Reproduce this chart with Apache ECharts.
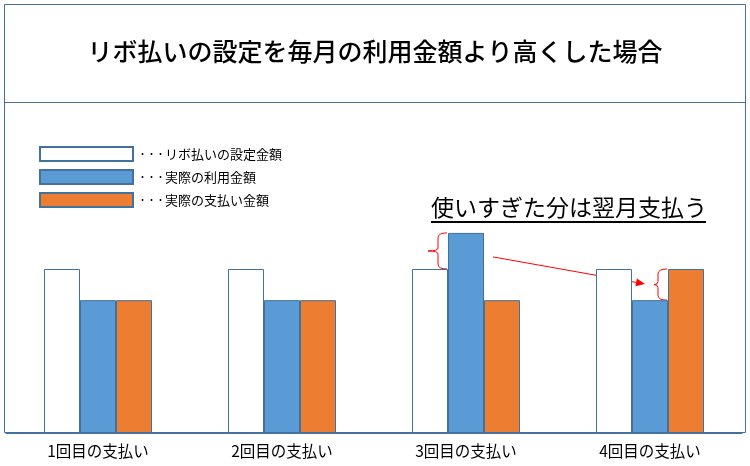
<!DOCTYPE html>
<html><head><meta charset="utf-8">
<script src="https://cdn.jsdelivr.net/npm/echarts@6/dist/echarts.min.js"></script>
<style>html,body{margin:0;padding:0;background:#fff}#c{width:750px;height:466px}</style>
</head><body><div id="c"></div>
<script>
const categories = ['1回目の支払い','2回目の支払い','3回目の支払い','4回目の支払い'];
const seriesNames = ['リボ払いの設定金額','実際の利用金額','実際の支払い金額'];
const settingAmount = [100,100,100,100];
const usageAmount = [81,81,122,81];
const paymentAmount = [81,81,81,100];
const titleText = 'リボ払いの設定を毎月の利用金額より高くした場合';
const noteText = '使いすぎた分は翌月支払う';

const FONT = '"Noto Sans CJK JP", sans-serif';
const EDGE = '#41719C';
const chart = echarts.init(document.getElementById('c'), null, {renderer:'canvas'});
function bar(name, data, color){
  return {name, type:'bar', data, barGap:'0%', barCategoryGap:'41.3%',
    itemStyle:{color, borderColor:EDGE, borderWidth:1}, emphasis:{disabled:true}, animation:false};
}
chart.setOption({
  animation:false,
  textStyle:{fontFamily:FONT},
  title:{text:titleText, left:'center', top:39, padding:0, textStyle:{fontFamily:FONT, fontSize:25, fontWeight:500, color:'#000'}},
  legend:{orient:'vertical', left:39, top:146, padding:0, itemWidth:93, itemHeight:14, itemGap:7,
    icon:'rect', selectedMode:false,
    formatter: n => '{d|・・・}' + n,
    textStyle:{fontFamily:FONT, fontSize:13, color:'#000', rich:{d:{fontFamily:FONT, fontSize:9, color:'#000'}}}},
  grid:{left:6, right:8, top:105, bottom:33},
  xAxis:{type:'category', data:categories,
    axisLine:{lineStyle:{color:EDGE, width:1}}, axisTick:{show:false},
    axisLabel:{fontFamily:FONT, fontSize:15.5, color:'#000', margin:10}},
  yAxis:{type:'value', min:0, max:200, show:false, splitLine:{show:false}},
  series:[bar(seriesNames[0], settingAmount, '#FFFFFF'), bar(seriesNames[1], usageAmount, '#5B9BD5'), bar(seriesNames[2], paymentAmount, '#ED7D31')]
});

// annotations anchored on the data scale
const yOf = v => chart.convertToPixel({yAxisIndex:0}, v);
const xOf = i => chart.convertToPixel({xAxisIndex:0}, i);
const bw = 36;
const RED = '#FF0000';
function brace(xr, y1, y2, tip){
  const xm = xr - 9, ym = (y1+y2)/2;
  const st = {stroke:RED, fill:null, lineWidth:1};
  return [
    {type:'bezierCurve', shape:{x1:xr, y1:y1, x2:xm, y2:y1+5, cpx1:xm, cpy1:y1}, style:st},
    {type:'line', shape:{x1:xm, y1:y1+5, x2:xm, y2:ym-3}, style:st},
    {type:'bezierCurve', shape:{x1:xm, y1:ym-3, x2:tip, y2:ym, cpx1:xm, cpy1:ym}, style:st},
    {type:'bezierCurve', shape:{x1:tip, y1:ym, x2:xm, y2:ym+3, cpx1:xm, cpy1:ym}, style:st},
    {type:'line', shape:{x1:xm, y1:ym+3, x2:xm, y2:y2-5}, style:st},
    {type:'bezierCurve', shape:{x1:xm, y1:y2-5, x2:xr, y2:y2, cpx1:xm, cpy1:y2}, style:st}
  ];
}
const g3x = xOf(2), g4x = xOf(3);
const yTop3 = yOf(usageAmount[2]), ySet3 = yOf(settingAmount[2]);
const yTop4 = yOf(paymentAmount[3]), yUse4 = yOf(usageAmount[3]);
const arrowStart = [g3x + bw/2 + 9, yTop3 + 24];
const arrowEnd = [g4x - 5, yTop4 + 15];
const ang = Math.atan2(arrowEnd[1]-arrowStart[1], arrowEnd[0]-arrowStart[0]);
const hl = 9, hw = 4;
const hx = arrowEnd[0], hy = arrowEnd[1];
const bx = hx - hl*Math.cos(ang), by = hy - hl*Math.sin(ang);
const head = [[hx,hy],[bx - hw*Math.sin(ang), by + hw*Math.cos(ang)],[bx + hw*Math.sin(ang), by - hw*Math.cos(ang)]];

chart.setOption({graphic:[
  {type:'rect', shape:{x:4.5, y:4.5, width:741, height:428}, style:{stroke:EDGE, fill:null, lineWidth:1}, silent:true, z:-1},
  {type:'line', shape:{x1:4.5, y1:102.5, x2:745.5, y2:102.5}, style:{stroke:EDGE, lineWidth:1}, silent:true},
  {type:'text', x:431, y:196, style:{text:noteText, font:'23px ' + FONT, fill:'#000'}},
  {type:'line', shape:{x1:431, y1:222, x2:706, y2:222}, style:{stroke:'#000', lineWidth:2}},
  ...brace(g3x - bw/2 - 1, yTop3, ySet3, g3x - bw/2 - 20),
  ...brace(g4x + bw/2 - 1, yTop4, yUse4, g4x + bw/2 - 14),
  {type:'line', shape:{x1:arrowStart[0], y1:arrowStart[1], x2:bx, y2:by}, style:{stroke:RED, lineWidth:1}},
  {type:'polygon', shape:{points:head}, style:{fill:RED}}
]});
</script></body></html>
